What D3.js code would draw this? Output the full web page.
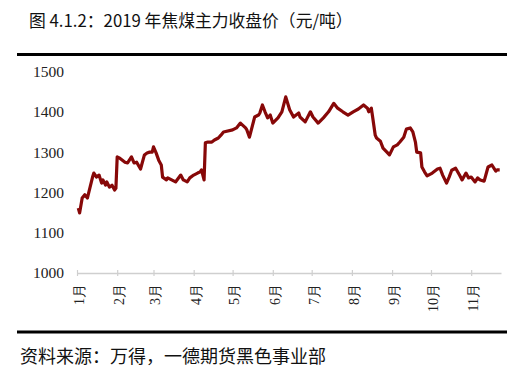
<!DOCTYPE html>
<html><head><meta charset="utf-8">
<script src="https://cdn.jsdelivr.net/npm/d3@7"></script>
<style>
html,body{margin:0;padding:0;background:#fff;}
svg{display:block;}
</style></head>
<body>
<svg id="chart" width="531" height="384"></svg>
<script>
const titleText = "图 4.1.2：2019 年焦煤主力收盘价（元/吨）";
const sourceText = "资料来源：万得，一德期货黑色事业部";
const monthLabels = ["1月","2月","3月","4月","5月","6月","7月","8月","9月","10月","11月"];
const yTicks = [1000,1100,1200,1300,1400,1500];
const dates = [
"2019-01-02","2019-01-03","2019-01-05","2019-01-07","2019-01-09","2019-01-10","2019-01-13","2019-01-14","2019-01-16","2019-01-18",
"2019-01-20","2019-01-21","2019-01-23","2019-01-24","2019-01-26","2019-01-28","2019-01-30","2019-01-31","2019-02-01","2019-02-03",
"2019-02-07","2019-02-09","2019-02-12","2019-02-14","2019-02-16","2019-02-19","2019-02-22","2019-02-24","2019-02-26","2019-02-28",
"2019-03-01","2019-03-03","2019-03-05","2019-03-07","2019-03-08","2019-03-11","2019-03-12","2019-03-15","2019-03-18","2019-03-22",
"2019-03-24","2019-03-27","2019-03-29","2019-04-01","2019-04-04","2019-04-06","2019-04-07","2019-04-09","2019-04-10","2019-04-12",
"2019-04-15","2019-04-17","2019-04-20","2019-04-22","2019-04-24","2019-05-01","2019-05-04","2019-05-07","2019-05-11","2019-05-12",
"2019-05-14","2019-05-18","2019-05-21","2019-05-22","2019-05-24","2019-05-26","2019-05-28","2019-05-30","2019-06-01","2019-06-05",
"2019-06-08","2019-06-11","2019-06-14","2019-06-17","2019-06-21","2019-06-22","2019-06-26","2019-06-30","2019-07-02","2019-07-06",
"2019-07-10","2019-07-14","2019-07-18","2019-07-21","2019-07-25","2019-07-29","2019-08-02","2019-08-06","2019-08-10","2019-08-13",
"2019-08-14","2019-08-16","2019-08-17","2019-08-19","2019-08-20","2019-08-23","2019-08-25","2019-08-28","2019-08-30","2019-09-02",
"2019-09-05","2019-09-07","2019-09-10","2019-09-12","2019-09-15","2019-09-17","2019-09-19","2019-09-20","2019-09-23","2019-09-24",
"2019-09-26","2019-09-28","2019-10-02","2019-10-06","2019-10-08","2019-10-10","2019-10-13","2019-10-15","2019-10-17","2019-10-20",
"2019-10-23","2019-10-25","2019-10-28","2019-10-30","2019-11-01","2019-11-04","2019-11-06","2019-11-08","2019-11-11","2019-11-14",
"2019-11-17","2019-11-19","2019-11-20","2019-11-21","2019-11-23"
];
const closes = [
1161,1149,1186,1194,1186,1199,1238,1248,1238,1243,
1223,1231,1218,1226,1213,1218,1206,1210,1288,1285,
1275,1273,1288,1273,1275,1258,1293,1298,1300,1300,
1313,1298,1280,1268,1238,1231,1236,1231,1226,1243,
1231,1226,1236,1243,1248,1251,1256,1231,1323,1325,
1325,1330,1335,1342,1350,1355,1360,1372,1360,1355,
1337,1387,1392,1397,1417,1400,1385,1392,1372,1385,
1400,1437,1405,1387,1397,1387,1375,1400,1387,1372,
1385,1400,1421,1409,1400,1392,1400,1407,1417,1409,
1400,1409,1387,1342,1335,1327,1310,1300,1293,1313,
1318,1325,1337,1357,1360,1350,1325,1300,1298,1263,
1251,1241,1248,1258,1260,1243,1223,1238,1255,1260,
1243,1231,1248,1236,1238,1226,1236,1231,1228,1263,
1268,1258,1253,1256,1256
];

const parse = d3.timeParse("%Y-%m-%d");
const data = dates.map((d,i)=>({date: parse(d), value: closes[i]})).filter(d=>d.value!=null);

const svg = d3.select("#chart");
svg.append("rect").attr("width",531).attr("height",384).attr("fill","#fff");

svg.append("text").attr("x",29).attr("y",27)
  .attr("font-family","'Noto Sans CJK SC', sans-serif").attr("font-size",16.8)
  .attr("fill","#111").text(titleText);

svg.append("rect").attr("x",17).attr("y",53).attr("width",490).attr("height",3).attr("fill","#000");
svg.append("rect").attr("x",17).attr("y",330.5).attr("width",490).attr("height",3).attr("fill","#000");

svg.append("text").attr("x",20).attr("y",363)
  .attr("font-family","'Noto Sans CJK SC', sans-serif").attr("font-size",18)
  .attr("fill","#111").text(sourceText);

const x = d3.scaleTime().domain([new Date(2019,0,1), new Date(2019,10,24)]).range([77,501]);
const y = d3.scaleLinear().domain([1000,1500]).range([273,71.5]);

// y axis labels
const yAxis = d3.axisLeft(y).tickValues(yTicks).tickSize(0).tickPadding(0).tickFormat(d3.format("d"));
const gy = svg.append("g").attr("transform","translate(64,0)").call(yAxis);
gy.select(".domain").remove();
gy.selectAll("text").attr("font-family","'Liberation Serif', serif").attr("font-size",15.5).attr("fill","#222");

// x axis
const monthDates = monthLabels.map((m,i)=>new Date(2019,i,1));
const xAxis = d3.axisBottom(x).tickValues(monthDates).tickSize(4).tickSizeOuter(0).tickFormat((d,i)=>monthLabels[i]);
const gx = svg.append("g").attr("transform","translate(0,273)").call(xAxis);
gx.select(".domain").attr("stroke","#cfcfcf").attr("stroke-width",1.5);
gx.selectAll(".tick line").attr("stroke","#cfcfcf").attr("stroke-width",1.2).attr("y1",-3).attr("y2",3);
gx.selectAll(".tick text")
  .attr("font-family","'Liberation Serif', serif").attr("font-size",14).attr("fill","#222")
  .attr("transform","rotate(-90)").attr("text-anchor","end")
  .attr("x",-11).attr("y",0).attr("dy","0.45em");

// line
const line = d3.line().x(d=>x(d.date)).y(d=>y(d.value)).curve(d3.curveLinear);
svg.append("path").datum(data).attr("d",line).attr("fill","none")
  .attr("stroke","#870808").attr("stroke-width",3.2).attr("stroke-linejoin","round");
</script>
</body></html>
